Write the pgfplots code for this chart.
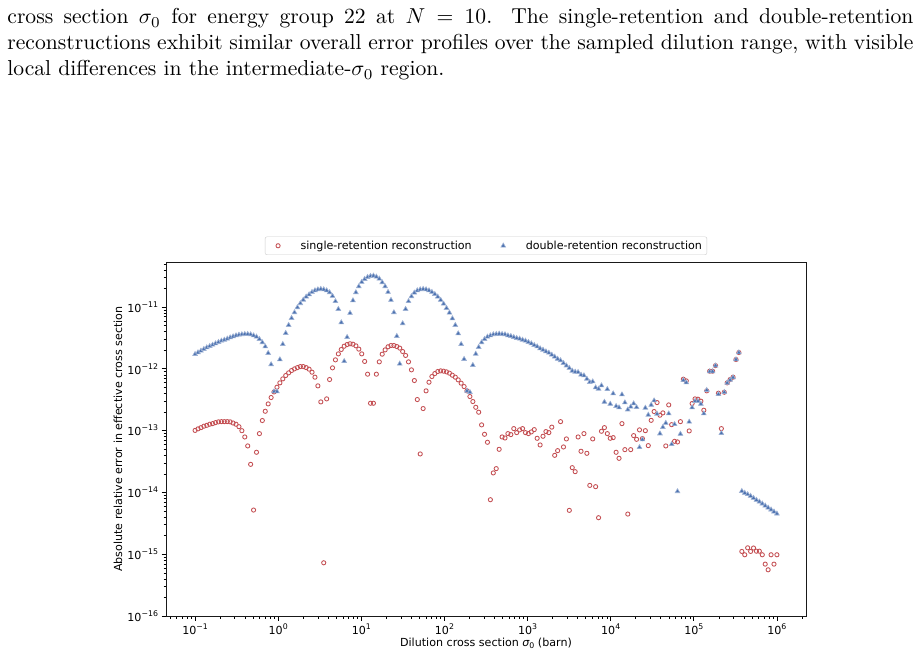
\documentclass[border=0pt]{standalone}
\usepackage{fontspec}
\usepackage{pgfplots}
\pgfplotsset{compat=1.18}
\usepackage{pgfplotstable}

\newfontfamily\dejavu{DejaVu Sans}
\definecolor{srred}{HTML}{C44E52}
\definecolor{drblue}{HTML}{4C72B0}
\newcommand\chartfont{\dejavu\fontsize{11.1}{13.3}\selectfont}
\newcommand\expo[1]{10\raisebox{0.45em}{\fontsize{7.8}{8}\selectfont #1}}
% legend handle: one mark with empty room on both sides of it
\pgfplotsset{marklegend/.style={legend image code/.code={%
  \path[draw=none, fill=none] (-10pt,0pt) -- (17.5pt,0pt);
  \draw[##1] plot coordinates {(0pt,0pt)};}}}

% log10 of the dilution cross section, then the two error series
\pgfplotstableread{
lx single double
-1.0000 1.01e-13 1.73e-12
-0.9648 1.07e-13 1.84e-12
-0.9296 1.12e-13 1.96e-12
-0.8945 1.18e-13 2.09e-12
-0.8593 1.22e-13 2.22e-12
-0.8241 1.27e-13 2.33e-12
-0.7889 1.30e-13 2.45e-12
-0.7538 1.35e-13 2.58e-12
-0.7186 1.39e-13 2.71e-12
-0.6834 1.40e-13 2.85e-12
-0.6482 1.40e-13 2.95e-12
-0.6131 1.40e-13 3.07e-12
-0.5779 1.39e-13 3.22e-12
-0.5427 1.33e-13 3.35e-12
-0.5075 1.27e-13 3.47e-12
-0.4724 1.16e-13 3.56e-12
-0.4372 1.00e-13 3.61e-12
-0.4020 7.91e-14 3.65e-12
-0.3668 5.66e-14 3.65e-12
-0.3317 2.85e-14 3.61e-12
-0.2965 5.19e-15 3.47e-12
-0.2613 4.47e-14 3.31e-12
-0.2261 8.96e-14 3.03e-12
-0.1910 1.46e-13 2.68e-12
-0.1558 2.06e-13 2.30e-12
-0.1206 2.71e-13 1.80e-12
-0.0854 3.44e-13 1.18e-12
-0.0503 4.24e-13 4.30e-13
-0.0151 5.05e-13 4.30e-13
0.0201 5.94e-13 1.42e-12
0.0553 6.89e-13 2.51e-12
0.0905 7.81e-13 3.79e-12
0.1256 8.63e-13 5.11e-12
0.1608 9.41e-13 6.63e-12
0.1960 1.00e-12 8.20e-12
0.2312 1.05e-12 9.88e-12
0.2663 1.09e-12 1.15e-11
0.3015 1.09e-12 1.31e-11
0.3367 1.05e-12 1.47e-11
0.3719 9.89e-13 1.60e-11
0.4070 8.84e-13 1.75e-11
0.4422 7.34e-13 1.86e-11
0.4774 5.31e-13 1.93e-11
0.5126 2.92e-13 1.96e-11
0.5477 7.27e-16 1.93e-11
0.5829 3.27e-13 1.86e-11
0.6181 6.73e-13 1.73e-11
0.6533 1.04e-12 1.51e-11
0.6884 1.40e-12 1.24e-11
0.7236 1.75e-12 9.28e-12
0.7588 2.06e-12 5.64e-12
0.7940 2.33e-12 1.33e-12
0.8291 2.48e-12 3.26e-12
0.8643 2.55e-12 8.00e-12
0.8995 2.51e-12 1.28e-11
0.9347 2.36e-12 1.73e-11
0.9698 2.09e-12 2.16e-11
1.0050 1.75e-12 2.54e-11
1.0402 1.32e-12 2.84e-11
1.0754 8.21e-13 3.06e-11
1.1106 2.78e-13 3.18e-11
1.1457 2.78e-13 3.22e-11
1.1809 8.21e-13 3.10e-11
1.2161 1.30e-12 2.88e-11
1.2513 1.73e-12 2.51e-11
1.2864 2.03e-12 2.16e-11
1.3216 2.28e-12 1.75e-11
1.3568 2.39e-12 1.30e-11
1.3920 2.39e-12 8.20e-12
1.4271 2.30e-12 3.39e-12
1.4623 2.17e-12 1.21e-12
1.4975 1.91e-12 5.44e-12
1.5327 1.65e-12 9.28e-12
1.5678 1.30e-12 1.24e-11
1.6030 9.65e-13 1.49e-11
1.6382 6.48e-13 1.71e-11
1.6734 3.19e-13 1.86e-11
1.7085 4.20e-14 1.93e-11
1.7437 2.28e-13 1.96e-11
1.7789 4.41e-13 1.93e-11
1.8141 6.09e-13 1.86e-11
1.8492 7.52e-13 1.75e-11
1.8844 8.41e-13 1.62e-11
1.9196 9.07e-13 1.47e-11
1.9548 9.29e-13 1.30e-11
1.9899 9.18e-13 1.13e-11
2.0251 8.95e-13 9.63e-12
2.0603 8.52e-13 8.10e-12
2.0955 7.90e-13 6.55e-12
2.1307 7.34e-13 5.11e-12
2.1658 6.64e-13 3.74e-12
2.2010 5.87e-13 2.51e-12
2.2362 5.18e-13 1.44e-12
2.2714 4.41e-13 4.41e-13
2.3065 3.57e-13 4.19e-13
2.3417 2.96e-13 1.15e-12
2.3769 2.39e-13 1.75e-12
2.4121 1.99e-13 2.25e-12
2.4472 1.24e-13 2.68e-12
2.4824 8.74e-14 3.03e-12
2.5176 6.49e-14 3.31e-12
2.5528 7.63e-15 3.47e-12
2.5879 2.07e-14 3.61e-12
2.6231 2.43e-14 3.65e-12
2.6583 4.99e-14 3.70e-12
2.6935 7.91e-14 3.65e-12
2.7286 7.62e-14 3.61e-12
2.7638 8.96e-14 3.47e-12
2.7990 8.64e-14 3.39e-12
2.8342 1.08e-13 3.26e-12
2.8693 9.30e-14 3.15e-12
2.9045 1.03e-13 3.07e-12
2.9397 1.08e-13 2.95e-12
2.9749 9.30e-14 2.85e-12
3.0101 8.96e-14 2.71e-12
3.0452 9.54e-14 2.58e-12
3.0804 1.04e-13 2.42e-12
3.1156 7.53e-14 2.30e-12
3.1508 5.87e-14 2.14e-12
3.1859 8.12e-14 2.03e-12
3.2211 9.66e-14 1.91e-12
3.2563 9.30e-14 1.82e-12
3.2915 1.14e-13 1.69e-12
3.3266 3.99e-14 1.57e-12
3.3618 4.75e-14 1.45e-12
3.3970 1.40e-13 1.37e-12
3.4322 5.45e-14 1.24e-12
3.4673 7.35e-14 1.13e-12
3.5025 5.13e-15 1.03e-12
3.5377 2.52e-14 9.29e-13
3.5729 2.17e-14 8.95e-13
3.6080 7.91e-14 8.84e-13
3.6432 4.64e-14 8.01e-13
3.6784 8.96e-14 7.81e-13
3.7136 4.30e-14 6.89e-13
3.7487 1.30e-14 6.09e-13
3.7839 7.35e-14 6.24e-13
3.8191 1.24e-14 4.99e-13
3.8543 3.90e-15 4.75e-13
3.8894 9.78e-14 5.38e-13
3.9246 1.12e-13 2.92e-13
3.9598 8.96e-14 4.69e-13
3.9950 7.53e-14 2.71e-13
4.0302 7.72e-14 3.99e-13
4.0653 4.47e-14 2.49e-13
4.1005 3.57e-14 2.37e-13
4.1357 1.30e-13 3.84e-13
4.1709 4.93e-14 2.85e-13
4.2060 4.47e-15 2.19e-13
4.2412 4.93e-14 2.43e-13
4.2764 8.32e-14 2.75e-13
4.3116 7.25e-14 2.39e-13
4.3467 1.03e-13 5.38e-14
4.3819 7.44e-14 7.17e-14
4.4171 1.00e-13 2.34e-13
4.4523 5.73e-14 1.80e-13
4.4874 1.47e-13 2.61e-13
4.5226 2.04e-13 3.07e-13
4.5578 2.85e-13 1.87e-13
4.5930 1.78e-13 8.96e-14
4.6281 1.94e-13 1.14e-13
4.6633 5.66e-14 1.33e-13
4.6985 2.61e-13 1.89e-13
4.7337 1.25e-13 6.02e-14
4.7688 6.73e-14 1.27e-13
4.8040 6.57e-14 1.04e-14
4.8392 1.40e-13 8.85e-14
4.8744 6.81e-13 6.56e-13
4.9095 6.40e-13 6.01e-13
4.9447 9.90e-14 1.39e-13
4.9799 2.75e-13 2.37e-13
5.0151 3.27e-13 3.00e-13
5.0503 3.23e-13 3.00e-13
5.0854 3.00e-13 2.71e-13
5.1206 2.14e-13 1.89e-13
5.1558 4.41e-13 4.52e-13
5.1910 9.18e-13 9.07e-13
5.2261 9.18e-13 9.07e-13
5.2613 1.13e-12 1.13e-12
5.2965 4.04e-13 3.89e-13
5.3317 1.08e-13 9.08e-14
5.3668 4.19e-13 4.19e-13
5.4020 5.94e-13 5.94e-13
5.4372 6.73e-13 6.64e-13
5.4724 7.34e-13 7.25e-13
5.5075 1.42e-12 1.42e-12
5.5427 1.84e-12 1.84e-12
5.5779 1.11e-15 1.05e-14
5.6131 9.80e-16 9.79e-15
5.6482 1.27e-15 9.32e-15
5.6834 1.11e-15 8.75e-15
5.7186 1.26e-15 8.12e-15
5.7538 1.12e-15 7.54e-15
5.7889 1.12e-15 7.09e-15
5.8241 9.80e-16 6.58e-15
5.8593 6.92e-16 6.10e-15
5.8945 5.60e-16 5.66e-15
5.9296 9.80e-16 5.26e-15
5.9648 6.92e-16 4.88e-15
6.0000 9.80e-16 4.53e-15
}\errdata

\begin{document}
\begin{tikzpicture}
\fill[white] (0,0) rectangle (919pt,656pt);
\path[use as bounding box] (0,0) rectangle (919pt,656pt);

% caption text above the figure
\begin{scope}[every node/.style={anchor=base west, inner sep=0pt, scale=2.16}]
\node at (7pt,632pt) {\fontsize{10}{12}\selectfont\makebox[419.44pt][s]{cross section $\sigma_0$ for energy group 22 at $N = 10$. The single-retention and double-retention}};
\node at (7pt,606pt) {\fontsize{10}{12}\selectfont\makebox[419.44pt][s]{reconstructions exhibit similar overall error profiles over the sampled dilution range, with visible}};
\node at (7pt,580pt) {\fontsize{10}{12}\selectfont local differences in the intermediate-$\sigma_0$ region.};
\end{scope}

\begin{axis}[
  at={(166pt,40pt)}, anchor=south west,
  scale only axis, width=640pt, height=354pt,
  xmode=log, ymode=log,
  xmin=0.04467, xmax=2.2387e6,
  ymin=1e-16, ymax=5.37e-11,
  axis line style={line width=0.9pt, black!90},
  tick pos=left, tick align=outside,
  major tick length=4.5pt, minor tick length=2.5pt,
  every tick/.style={black, line width=0.8pt},
  minor tick style={black, line width=0.55pt},
  xtick={1e-1,1e0,1e1,1e2,1e3,1e4,1e5,1e6},
  xticklabels={\expo{−1},\expo{0},\expo{1},\expo{2},\expo{3},\expo{4},\expo{5},\expo{6}},
  minor xtick={5e-2,6e-2,7e-2,8e-2,9e-2,
    2e-1,3e-1,4e-1,5e-1,6e-1,7e-1,8e-1,9e-1,
    2e0,3e0,4e0,5e0,6e0,7e0,8e0,9e0,
    2e1,3e1,4e1,5e1,6e1,7e1,8e1,9e1,
    2e2,3e2,4e2,5e2,6e2,7e2,8e2,9e2,
    2e3,3e3,4e3,5e3,6e3,7e3,8e3,9e3,
    2e4,3e4,4e4,5e4,6e4,7e4,8e4,9e4,
    2e5,3e5,4e5,5e5,6e5,7e5,8e5,9e5,2e6},
  ytick={1e-16,1e-15,1e-14,1e-13,1e-12,1e-11},
  yticklabels={\expo{−16},\expo{−15},\expo{−14},\expo{−13},\expo{−12},\expo{−11}},
  minor ytick={2e-16,3e-16,4e-16,5e-16,6e-16,7e-16,8e-16,9e-16,
    2e-15,3e-15,4e-15,5e-15,6e-15,7e-15,8e-15,9e-15,
    2e-14,3e-14,4e-14,5e-14,6e-14,7e-14,8e-14,9e-14,
    2e-13,3e-13,4e-13,5e-13,6e-13,7e-13,8e-13,9e-13,
    2e-12,3e-12,4e-12,5e-12,6e-12,7e-12,8e-12,9e-12,
    2e-11,3e-11,4e-11,5e-11},
  ticklabel style={font=\chartfont},
  xlabel={Dilution cross section {\itshape σ}\raisebox{-0.2em}{\fontsize{7.8}{8}\selectfont 0} (barn)},
  ylabel={Absolute relative error in effective cross section},
  every axis x label/.style={at={(axis description cs:0.5,-0.078)}, anchor=center, font=\chartfont},
  every axis y label/.style={at={(axis description cs:-0.075,0.5)}, anchor=center, rotate=90, font=\chartfont},
  legend style={at={(axis description cs:0.5,1.02)}, anchor=south,
    legend columns=2, draw=black!20, rounded corners=2pt, font=\chartfont,
    inner ysep=2pt,
    /tikz/every odd column/.append style={column sep=3pt},
    /tikz/every even column/.append style={column sep=19.5pt}},
  legend cell align=left,
]
\addplot[only marks, mark=o, mark size=2.1pt, line width=0.85pt, srred, marklegend]
  table[x expr={10^(\thisrow{lx})}, y=single] {\errdata};
\addlegendentry{single-retention reconstruction}
\addplot[only marks, mark=triangle*, mark size=2.7pt, line width=0.6pt, drblue,
  mark options={fill=drblue, draw=drblue!55}, marklegend]
  table[x expr={10^(\thisrow{lx})}, y=double] {\errdata};
\addlegendentry{double-retention reconstruction}
\end{axis}
\end{tikzpicture}
\end{document}
